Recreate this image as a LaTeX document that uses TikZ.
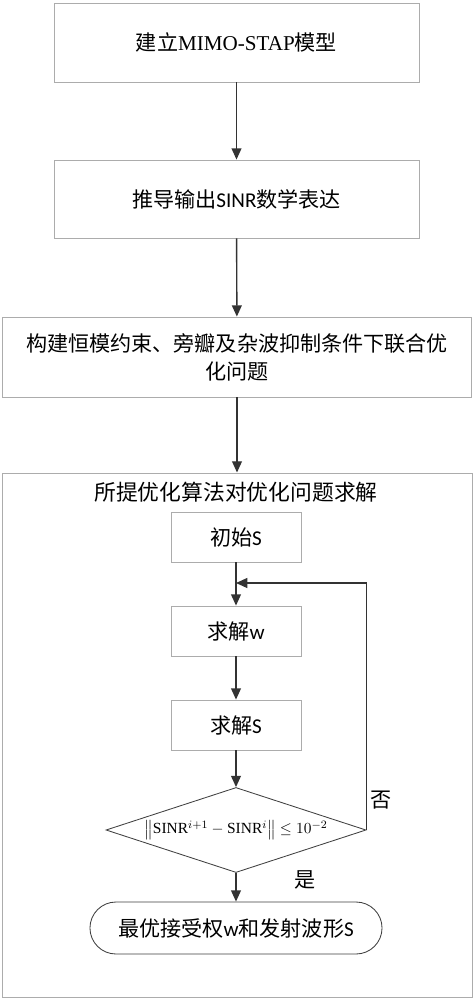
\documentclass[tikz,border=0pt]{standalone}
\usepackage{amsmath,amssymb}
\usepackage{fontspec}
\setmainfont{Liberation Serif}
\newfontfamily\cjk{Noto Sans CJK SC}
\newfontfamily\latinsans{Carlito}
\usetikzlibrary{positioning, shapes.geometric, arrows.meta, calc}

\tikzset{
    stagebox/.style={draw=gray!65, line width=0.6pt, fill=white, align=center,
        inner sep=0pt, font=\cjk\fontsize{15}{20}\selectfont},
    flow/.style={-{Triangle[length=8pt,width=7pt]}, line width=1pt, draw=black!80},
    tag/.style={font=\cjk\fontsize{15}{18}\selectfont}
}

\begin{document}
\begin{tikzpicture}[x=0.025cm, y=-0.025cm]
    \useasboundingbox (0,0) rectangle (475,1000);

    % Upper stages
    \node[stagebox, minimum width=9.125cm, minimum height=1.975cm] (model) at (236.5,42.5)
        {建立\textrm{MIMO-STAP}模型};
    \node[stagebox, minimum width=9.125cm, minimum height=1.95cm] (sinr) at (236.5,199)
        {推导输出{\latinsans SINR}数学表达};
    \node[stagebox, minimum width=11.725cm, minimum height=2cm, text width=11.2cm] (joint) at (237,357)
        {构建恒模约束、旁瓣及杂波抑制条件下联合优\\化问题};

    % Solver frame
    \node[stagebox, minimum width=11.75cm, minimum height=13.1cm] (solver) at (237,735) {};
    \node[tag, font=\cjk\fontsize{15.5}{18}\selectfont] (title) at (236,492) {所提优化算法对优化问题求解};

    % Iteration
    \node[stagebox, minimum width=3.25cm, minimum height=1.25cm] (init) at (236,537) {初始{\latinsans S}};
    \node[stagebox, minimum width=3.25cm, minimum height=1.25cm] (solvew) at (236,631) {求解{\latinsans w}};
    \node[stagebox, minimum width=3.25cm, minimum height=1.25cm] (solveS) at (236,725) {求解{\latinsans S}};
    \node[draw=black!75, line width=0.6pt, diamond, aspect=3, inner xsep=-4pt, inner ysep=0pt,
        minimum width=6.5cm, minimum height=2.125cm, font=\fontsize{11}{13}\selectfont] (check) at (236,830)
        {$\bigl\|\textrm{SINR}^{i+1}-\textrm{SINR}^{i}\bigr\|\leq 10^{-2}$};
    \node[stagebox, draw=black!75, rounded corners=0.65cm, minimum width=7.3cm, minimum height=1.3cm] (result) at (236,928)
        {最优接受权{\latinsans w}和发射波形{\latinsans S}};
    \coordinate (join) at (236,583);

    % Connectors
    \draw[flow] (model) -- (sinr);
    \draw[flow] (sinr) -- (joint);
    \draw[flow] (joint) -- (solver);
    \draw[flow] (init) -- (solvew);
    \draw[flow] (solvew) -- (solveS);
    \draw[flow] (solveS) -- (check);
    \draw[flow] (check) -- (result);
    \draw[flow] (check.east) -- (check.east |- join) -- (join);

    \node[tag] (no) at (381,800) {否};
    \node[tag] (yes) at (305,880) {是};
\end{tikzpicture}
\end{document}
